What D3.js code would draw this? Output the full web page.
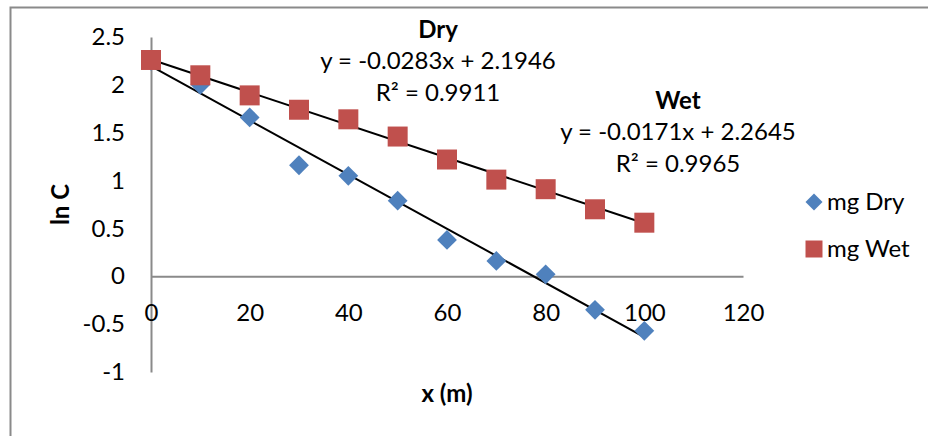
<!DOCTYPE html>
<html>
<head>
<meta charset="utf-8">
<script src="https://cdn.jsdelivr.net/npm/d3@7"></script>
<style>
  html, body { margin: 0; padding: 0; background: #fff; }
  svg { display: block; }
  text { font-family: Lato, "Open Sans", sans-serif; fill: #000; }
</style>
</head>
<body>
<svg id="chart" width="928" height="436"></svg>
<script>
// Distance along the transect (m)
const distances = [0, 10, 20, 30, 40, 50, 60, 70, 80, 90, 100];
// ln C for the dry season samples
const dryValues = [2.25, 2.00, 1.66, 1.16, 1.05, 0.79, 0.38, 0.16, 0.02, -0.35, -0.57];
// ln C for the wet season samples
const wetValues = [2.26, 2.10, 1.89, 1.74, 1.64, 1.46, 1.22, 1.01, 0.91, 0.70, 0.56];
// Linear trendlines: [slope, intercept, R²]
const dryFit = [-0.0283, 2.1946, 0.9911];
const wetFit = [-0.0171, 2.2645, 0.9965];
const xTicks = [0, 20, 40, 60, 80, 100, 120];
const yTicks = [-1, -0.5, 0, 0.5, 1, 1.5, 2, 2.5];
const seriesNames = ["mg Dry", "mg Wet"];
const fitTitles = ["Dry", "Wet"];

const blue = "#4F81BD";
const red = "#C0504D";
const axisGrey = "#8a8a8a";
const fontSize = 24;

const svg = d3.select("#chart");

const x = d3.scaleLinear().domain([0, 120]).range([151, 743]);
const y = d3.scaleLinear().domain([-1, 2.5]).range([372, 37]);

// Chart frame: only the left and top edges are drawn
svg.append("path")
  .attr("d", "M10.5,436 L10.5,7.5 L928,7.5")
  .attr("fill", "none")
  .attr("stroke", axisGrey)
  .attr("stroke-width", 2);

// Vertical axis
const yAxis = svg.append("g")
  .attr("transform", `translate(${x(0)},0)`)
  .call(d3.axisLeft(y).tickValues(yTicks).tickSize(0).tickPadding(26)
    .tickFormat(d => String(d)));
yAxis.select(".domain").attr("stroke", axisGrey).attr("stroke-width", 2);
yAxis.selectAll("text").attr("font-size", fontSize).attr("font-family", null);

// Horizontal axis crossing at zero
const xAxis = svg.append("g")
  .attr("transform", `translate(0,${y(0)})`)
  .call(d3.axisBottom(x).tickValues(xTicks).tickSize(0).tickPadding(0)
    .tickFormat(d => String(d)));
xAxis.select(".domain").attr("stroke", axisGrey).attr("stroke-width", 2);
xAxis.selectAll("text")
  .attr("font-size", fontSize).attr("font-family", null)
  .attr("y", 36).attr("dy", "0.35em");

// Axis titles
svg.append("text")
  .attr("transform", `translate(61,${y(0.75)}) rotate(-90)`)
  .attr("text-anchor", "middle").attr("dy", "0.35em")
  .attr("font-size", fontSize).attr("font-weight", "bold")
  .text("ln C");
svg.append("text")
  .attr("x", 447).attr("y", 394)
  .attr("text-anchor", "middle").attr("dy", "0.35em")
  .attr("font-size", fontSize).attr("font-weight", "bold")
  .text("x (m)");

// Trendlines
const fits = [dryFit, wetFit];
const line = d3.line().x(d => x(d[0])).y(d => y(d[1]));
fits.forEach(f => {
  const ends = [0, 100].map(v => [v, f[0] * v + f[1]]);
  svg.append("path")
    .attr("d", line(ends))
    .attr("fill", "none")
    .attr("stroke", "#000")
    .attr("stroke-width", 2);
});

// Markers: dry diamonds first, wet squares on top
const squareSym = d3.symbol().type(d3.symbolSquare).size(20 * 20);
const diamondSym = d3.symbol().type(d3.symbolSquare).size(14 * 14);

svg.append("g").selectAll("path")
  .data(distances.map((d, i) => [d, dryValues[i]]))
  .join("path")
  .attr("d", diamondSym)
  .attr("transform", d => `translate(${x(d[0])},${y(d[1])}) rotate(45)`)
  .attr("fill", blue);

svg.append("g").selectAll("path")
  .data(distances.map((d, i) => [d, wetValues[i]]))
  .join("path")
  .attr("d", squareSym)
  .attr("transform", d => `translate(${x(d[0])},${y(d[1])})`)
  .attr("fill", red);

// Trendline labels
const fmtEq = f => `y = ${f[0]}x + ${f[1]}`;
const labelPos = [[438, 30], [678, 101]];
fits.forEach((f, i) => {
  const [cx, cy] = labelPos[i];
  const g = svg.append("g").attr("text-anchor", "middle").attr("font-size", fontSize);
  g.append("text").attr("x", cx).attr("y", cy).attr("dy", "0.35em")
    .attr("font-weight", "bold").text(fitTitles[i]);
  g.append("text").attr("x", cx).attr("y", cy + 31).attr("dy", "0.35em")
    .text(fmtEq(f));
  g.append("text").attr("x", cx).attr("y", cy + 63).attr("dy", "0.35em")
    .text(`R² = ${f[2]}`);
});

// Legend
const legend = svg.append("g");
const legendY = [202, 249];
const legendSyms = [
  d3.symbol().type(d3.symbolSquare).size(12 * 12),
  d3.symbol().type(d3.symbolSquare).size(17 * 17)
];
seriesNames.forEach((name, i) => {
  legend.append("path")
    .attr("d", legendSyms[i])
    .attr("transform", `translate(814,${legendY[i]})${i === 0 ? " rotate(45)" : ""}`)
    .attr("fill", i === 0 ? blue : red);
  legend.append("text")
    .attr("x", 827).attr("y", legendY[i]).attr("dy", "0.35em")
    .attr("font-size", fontSize)
    .text(name);
});
</script>
</body>
</html>
